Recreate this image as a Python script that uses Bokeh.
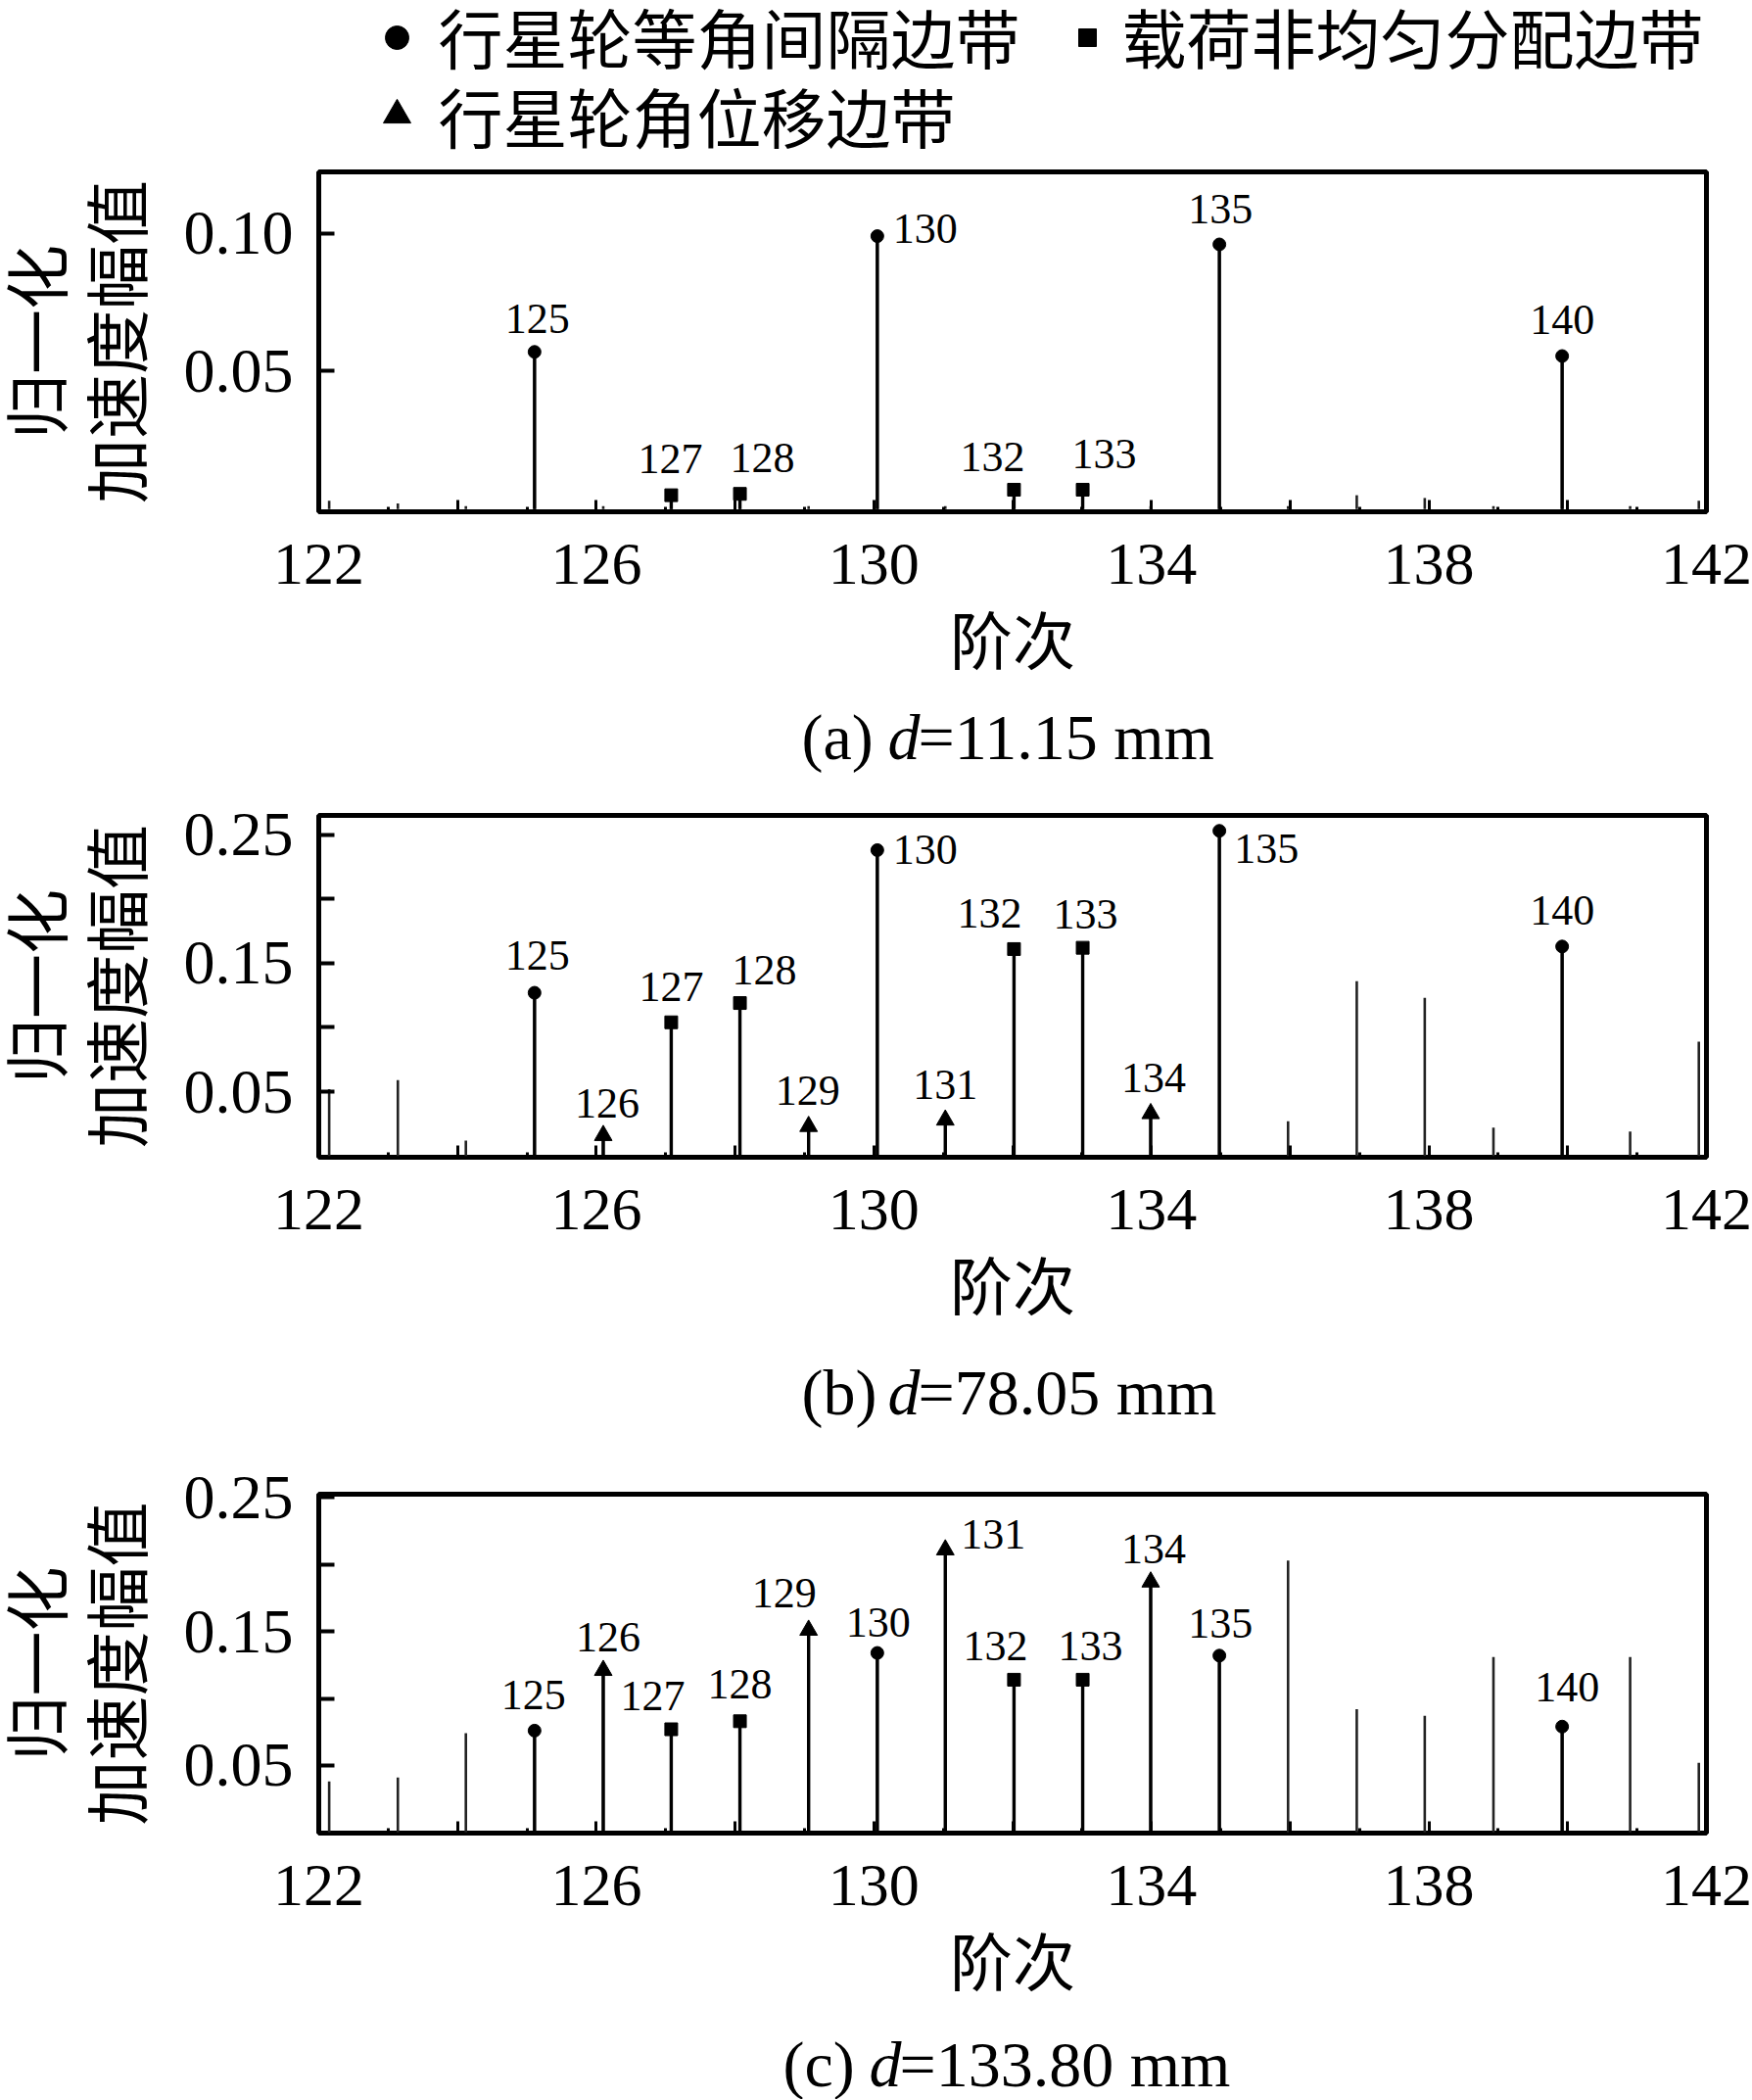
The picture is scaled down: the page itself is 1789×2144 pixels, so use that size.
from bokeh.plotting import figure
from bokeh.models import Range1d, FixedTicker, NumeralTickFormatter, Label, ColumnDataSource
from bokeh.layouts import column
from bokeh.core.properties import value
from bokeh.embed import file_html
from bokeh.resources import INLINE

# ---------------- data ----------------
orders = [122, 123, 124, 125, 126, 127, 128, 129, 130, 131, 132,
          133, 134, 135, 136, 137, 138, 139, 140, 141, 142]
# where each spectral line actually sits on the order axis
line_pos = [122.15, 123.14, 124.12, 125.11, 126.10, 127.08, 128.07, 129.06,
            130.05, 131.03, 132.02, 133.01, 133.99, 134.98, 135.97, 136.96,
            137.94, 138.93, 139.92, 140.90, 141.89]
amp_a = [0.003, 0.002, 0.001, 0.057, 0.001, 0.005, 0.0055, 0.001, 0.099, 0.001, 0.007,
         0.007, 0.001, 0.096, 0.001, 0.005, 0.004, 0.001, 0.0555, 0.001, 0.003]
amp_b = [0.052, 0.059, 0.012, 0.127, 0.016, 0.104, 0.119, 0.023, 0.238, 0.028, 0.161,
         0.162, 0.033, 0.253, 0.027, 0.136, 0.123, 0.022, 0.163, 0.019, 0.089]
amp_c = [0.038, 0.041, 0.074, 0.076, 0.121, 0.077, 0.083, 0.151, 0.134, 0.211, 0.114,
         0.114, 0.187, 0.132, 0.203, 0.092, 0.087, 0.131, 0.079, 0.131, 0.052]

circle_orders = [125, 130, 135, 140]      # 行星轮等角间隔边带
square_orders = [127, 128, 132, 133]      # 载荷非均匀分配边带
triangle_orders = [126, 129, 131, 134]    # 行星轮角位移边带

legend_texts = ["行星轮等角间隔边带", "载荷非均匀分配边带", "行星轮角位移边带"]
x_ticks = [122, 124, 126, 128, 130, 132, 134, 136, 138, 140, 142]
x_minor_ticks = [123, 125, 127, 129, 131, 133, 135, 137, 139, 141]
x_tick_labels = ["122", "", "126", "", "130", "", "134", "", "138", "", "142"]
y_ticks_a = [0.05, 0.10]
y_ticks_bc = [0.05, 0.15, 0.25]
y_minor_bc = [0.10, 0.20]
captions = [("(a) ", "d", "=11.15 mm"), ("(b) ", "d", "=78.05 mm"), ("(c) ", "d", "=133.80 mm")]
x_title = "阶次"
y_title = "归一化\n加速度幅值"

# ---------------- label placement (pixel offsets, styling only) ----------------
off_a = {125: (3, -34), 127: (-1, -37), 128: (23, -37), 130: (49, -8),
         132: (-22, -33), 133: (22, -36), 135: (1, -36), 140: (0, -37)}
off_b = {125: (3, -38), 126: (4, -33), 127: (0, -36), 128: (25, -34), 129: (-1, -37),
         130: (49, 0), 131: (0, -36), 132: (-25, -36), 133: (3, -34), 134: (3, -36),
         135: (48, 18), 140: (0, -37)}
off_c = {125: (-1, -36), 126: (5, -34), 127: (-19, -34), 128: (0, -38), 129: (-25, -38),
         130: (1, -31), 131: (49, -16), 132: (-19, -34), 133: (8, -34), 134: (3, -34),
         135: (1, -33), 140: (5, -40)}

W = 1789
LEFT = 325
FRAME_W = 1417
RIGHT = W - LEFT - FRAME_W
SERIF = "Liberation Serif"
CJK = "Noto Sans CJK SC"
YTITLE_FONT = "Liberation Serif, Noto Sans CJK SC"


def canvas_fig(h):
    # a plain strip whose data units are page pixels (frame aligned with the panels)
    p = figure(width=W, height=h, x_range=Range1d(LEFT, LEFT + FRAME_W), y_range=Range1d(h, 0),
               output_backend="svg", toolbar_location=None,
               x_axis_location=None, y_axis_location=None,
               min_border_left=LEFT, min_border_right=RIGHT, min_border_top=0, min_border_bottom=0)
    p.grid.visible = False
    p.outline_line_color = None
    return p


def legend_fig():
    p = canvas_fig(160)
    p.scatter([405], [38], marker="circle", size=24, color="black")
    p.scatter([1110], [38], marker="square", size=18, color="black")
    p.scatter([405], [117], marker="triangle", size=28, color="black")
    for tx, ty, t in zip([447, 1145, 447], [35, 35, 116], legend_texts):
        p.add_layout(Label(x=tx, y=ty, text=t, text_font=CJK, text_font_size="66px",
                           text_align="left", text_baseline="middle", text_color="black"))
    return p


def caption_fig(h, cap, x0, yc):
    p = canvas_fig(h)
    src = ColumnDataSource(dict(x=[x0, x0 + 88, x0 + 119], y=[yc, yc, yc], t=list(cap),
                                st=["normal", "italic", "normal"]))
    p.text(x="x", y="y", text="t", source=src, text_font=value(SERIF),
           text_font_style="st", text_font_size="66px", text_align="left",
           text_baseline="middle", text_color="black")
    return p


def panel(amps, y_start, y_end, y_ticks, y_minor, offsets, height, top, bottom, show_triangles):
    p = figure(width=W, height=height, x_range=Range1d(122, 142),
               y_range=Range1d(y_start, y_end), output_backend="svg",
               toolbar_location=None, min_border_left=LEFT, min_border_right=RIGHT,
               min_border_top=top, min_border_bottom=bottom)
    p.grid.visible = False
    p.outline_line_color = "black"
    p.outline_line_width = 5
    p.background_fill_color = "white"

    p.segment(x0=line_pos, y0=[0] * len(line_pos), x1=line_pos, y1=amps,
              line_color="#222222", line_width=2.6)

    groups = [(circle_orders, "circle", 13), (square_orders, "square", 13)]
    if show_triangles:
        groups.append((triangle_orders, "triangle", 18))
    for ords, mk, sz in groups:
        idx = [orders.index(o) for o in ords]
        xs = [line_pos[i] for i in idx]
        ys = [amps[i] for i in idx]
        p.segment(x0=xs, y0=[0] * len(xs), x1=xs, y1=ys, line_color="black", line_width=3.4)
        p.scatter(xs, ys, marker=mk, size=sz, color="black")

    lab_orders = [o for o in orders if o in offsets]
    idx = [orders.index(o) for o in lab_orders]
    src = ColumnDataSource(dict(
        x=[line_pos[i] for i in idx], y=[amps[i] for i in idx],
        t=[str(o) for o in lab_orders],
        dx=[offsets[o][0] for o in lab_orders], dy=[offsets[o][1] for o in lab_orders]))
    p.text(x="x", y="y", text="t", x_offset="dx", y_offset="dy", source=src,
           text_font=value(SERIF), text_font_size="44px", text_align="center",
           text_baseline="middle", text_color="black")

    # x axis
    xa = p.xaxis[0]
    xa.ticker = FixedTicker(ticks=x_ticks, minor_ticks=x_minor_ticks)
    xa.major_label_overrides = {t: s for t, s in zip(x_ticks, x_tick_labels)}
    xa.axis_line_color = None
    xa.major_tick_in = 12
    xa.major_tick_out = 0
    xa.minor_tick_in = 5
    xa.minor_tick_out = 0
    xa.major_tick_line_width = 3
    xa.minor_tick_line_width = 3
    xa.major_label_text_font = SERIF
    xa.major_label_text_font_size = "62px"
    xa.major_label_text_color = "black"
    xa.major_label_standoff = 33
    xa.axis_label = x_title
    xa.axis_label_text_font = CJK
    xa.axis_label_text_font_size = "64px"
    xa.axis_label_text_font_style = "normal"
    xa.axis_label_text_color = "black"
    xa.axis_label_standoff = 5

    # y axis
    ya = p.yaxis[0]
    ya.ticker = FixedTicker(ticks=y_ticks, minor_ticks=y_minor)
    ya.formatter = NumeralTickFormatter(format="0.00")
    ya.axis_line_color = None
    ya.major_tick_in = 16
    ya.major_tick_out = 0
    ya.minor_tick_in = 16
    ya.minor_tick_out = 0
    ya.major_tick_line_width = 4
    ya.minor_tick_line_width = 4
    ya.major_label_text_font = SERIF
    ya.major_label_text_font_size = "64px"
    ya.major_label_text_color = "black"
    ya.major_label_standoff = 26
    ya.axis_label = y_title
    ya.axis_label_text_font = YTITLE_FONT
    ya.axis_label_text_font_size = "66px"
    ya.axis_label_text_font_style = "normal"
    ya.axis_label_text_color = "black"
    ya.axis_label_text_line_height = 1.12
    ya.axis_label_standoff = 26
    return p


leg = legend_fig()
pa = panel(amp_a, -0.001, 0.1223, y_ticks_a, [], off_a, 540, 15, 178, False)
ca = caption_fig(90, captions[0], 818, 52)
pb = panel(amp_b, -0.001, 0.265, y_ticks_bc, y_minor_bc, off_b, 569, 42, 178, True)
cb = caption_fig(111, captions[1], 818, 62)
pc = panel(amp_c, -0.0005, 0.2525, y_ticks_bc, y_minor_bc, off_c, 579, 55, 178, True)
cc = caption_fig(94, captions[2], 799, 58)

layout = column(leg, pa, ca, pb, cb, pc, cc, spacing=0)
open("out.html", "w").write(file_html(layout, INLINE))
